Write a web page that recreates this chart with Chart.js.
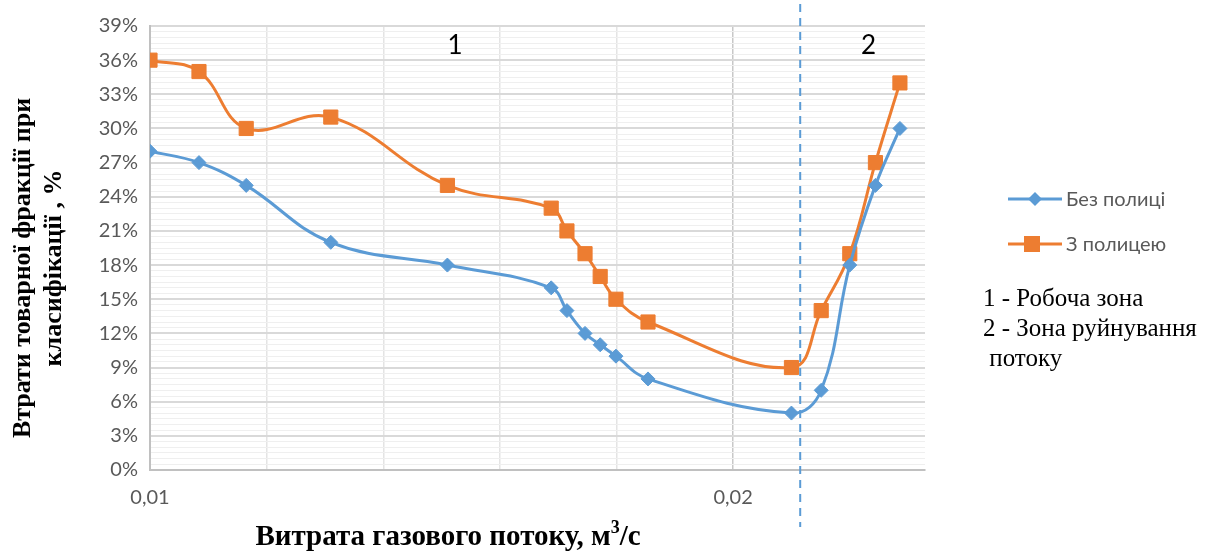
<!DOCTYPE html>
<html>
<head>
<meta charset="utf-8">
<script src="https://cdn.jsdelivr.net/npm/chart.js@4/dist/chart.umd.min.js"></script>
<style>
  html, body { margin: 0; padding: 0; background: #fff; }
  #wrap { width: 1218px; height: 557px; position: relative; }
</style>
</head>
<body>
<div id="wrap"><canvas id="chart"></canvas></div>
<script>
// Витрата газового потоку, м3/с
const flow = [0.01, 0.01084, 0.01165, 0.0131, 0.0151, 0.01688, 0.01715, 0.01746, 0.01772, 0.01799, 0.01854, 0.0210, 0.02151, 0.0220, 0.02244, 0.02286];
// Втрати товарної фракції, %
const lossNoShelf = [28, 27, 25, 20, 18, 16, 14, 12, 11, 10, 8, 5, 7, 18, 25, 30];
const lossShelf = [36, 35, 30, 31, 25, 23, 21, 19, 17, 15, 13, 9, 14, 19, 27, 34];
const seriesNames = ['Без полиці', 'З полицею'];
const xLabeled = [0.01, 0.02];
const xTickText = ['0,01', '0,02'];
const zoneBorder = 0.02115;
const zoneNames = ['1', '2'];
const zoneX = [0.01523, 0.02232];
const notes = ['1 - Робоча зона', '2 - Зона руйнування', ' потоку'];

const blue = '#5B9BD5';
const orange = '#ED7D31';

function isMajorY(v) {
  return Math.abs(v / 3 - Math.round(v / 3)) < 1e-6;
}

// подписи, легенда, пунктир
const extras = {
  id: 'extras',
  afterDraw(chart) {
    const ctx = chart.ctx;
    const xs = chart.scales.x;
    const ys = chart.scales.y;
    ctx.save();

    // граница зон
    const bx = xs.getPixelForValue(zoneBorder);
    ctx.strokeStyle = blue;
    ctx.lineWidth = 2;
    ctx.setLineDash([8, 6]);
    ctx.beginPath();
    ctx.moveTo(bx, 4);
    ctx.lineTo(bx, 527);
    ctx.stroke();
    ctx.setLineDash([]);

    // номера зон
    ctx.fillStyle = '#000';
    ctx.font = '26px Lato';
    ctx.textAlign = 'center';
    ctx.textBaseline = 'middle';
    zoneNames.forEach((t, i) => {
      ctx.fillText(t, xs.getPixelForValue(zoneX[i]), ys.getPixelForValue(37.3));
    });

    // легенда
    const colors = [blue, orange];
    const styles = ['diamond', 'square'];
    const legY = [199, 244];
    ctx.font = '20px Lato';
    ctx.textAlign = 'left';
    seriesNames.forEach((name, i) => {
      ctx.strokeStyle = colors[i];
      ctx.lineWidth = 3;
      ctx.beginPath();
      ctx.moveTo(1008, legY[i]);
      ctx.lineTo(1062, legY[i]);
      ctx.stroke();
      ctx.fillStyle = colors[i];
      ctx.beginPath();
      if (styles[i] == 'diamond') {
        ctx.moveTo(1035 - 7, legY[i]);
        ctx.lineTo(1035, legY[i] - 7);
        ctx.lineTo(1035 + 7, legY[i]);
        ctx.lineTo(1035, legY[i] + 7);
        ctx.closePath();
        ctx.fill();
      } else {
        ctx.fillRect(1032 - 8, legY[i] - 8, 16, 16);
      }
      ctx.fillStyle = '#595959';
      ctx.fillText(name, 1066, legY[i] + 1);
    });

    // пояснения к зонам
    ctx.fillStyle = '#000';
    ctx.font = '25px "Liberation Serif"';
    notes.forEach((t, i) => {
      ctx.fillText(t, 983, 299 + i * 30);
    });

    // подпись оси X
    const big = 'bold 29px "Liberation Serif"';
    const small = 'bold 18px "Liberation Serif"';
    ctx.font = big;
    const p1 = 'Витрата газового потоку, м';
    const p3 = '/с';
    const w1 = ctx.measureText(p1).width;
    const w3 = ctx.measureText(p3).width;
    ctx.font = small;
    const w2 = ctx.measureText('3').width;
    let sx = 448 - (w1 + w2 + w3) / 2;
    ctx.font = big;
    ctx.fillText(p1, sx, 538);
    ctx.font = small;
    ctx.fillText('3', sx + w1, 528);
    ctx.font = big;
    ctx.fillText(p3, sx + w1 + w2, 538);

    // подпись оси Y
    ctx.save();
    ctx.translate(23, 268);
    ctx.rotate(-Math.PI / 2);
    ctx.textAlign = 'center';
    ctx.font = 'bold 26px "Liberation Serif"';
    ctx.fillText('Втрати товарної фракції при', 0, 0);
    ctx.fillText('класифікації , %', 0, 31);
    ctx.restore();

    ctx.restore();
  }
};

const data = {
  datasets: [{
    label: seriesNames[0],
    data: flow.map((x, i) => ({ x: x, y: lossNoShelf[i] })),
    borderColor: blue,
    backgroundColor: blue,
    borderWidth: 3,
    pointStyle: 'rectRot',
    pointRadius: 7,
    pointBorderWidth: 1,
    tension: 0.4
  }, {
    label: seriesNames[1],
    data: flow.map((x, i) => ({ x: x, y: lossShelf[i] })),
    borderColor: orange,
    backgroundColor: orange,
    borderWidth: 3,
    pointStyle: 'rect',
    pointRadius: 10,
    pointBorderWidth: 1,
    tension: 0.4
  }]
};

const config = {
  type: 'line',
  data: data,
  options: {
    responsive: false,
    animation: false,
    layout: { padding: { top: 26, right: 293, left: 0, bottom: 0 } },
    plugins: {
      legend: { display: false },
      tooltip: { enabled: false }
    },
    scales: {
      x: {
        type: 'linear',
        min: 0.01,
        max: 0.02329,
        afterFit: s => { s.height = 87; },
        ticks: {
          stepSize: 0.002,
          autoSkip: false,
          maxRotation: 0,
          padding: 16,
          color: '#595959',
          font: { family: 'Lato', size: 20 },
          callback: v => {
            const i = xLabeled.findIndex(a => Math.abs(a - v) < 1e-7);
            return i >= 0 ? xTickText[i] : '';
          }
        },
        grid: {
          drawTicks: false,
          color: c => {
            const v = c.tick ? c.tick.value : 0;
            if (Math.abs(v - 0.02) < 1e-7) return '#c8c8c8';
            if (v > 0.0232) return 'rgba(0,0,0,0)';
            return '#e4e4e4';
          },
          lineWidth: 1.5
        },
        border: { color: '#c0c0c0', width: 2 }
      },
      y: {
        min: 0,
        max: 39,
        afterFit: s => { s.width = 150; },
        ticks: {
          stepSize: 0.5,
          autoSkip: false,
          padding: 12,
          color: '#595959',
          font: { family: 'Lato', size: 20 },
          callback: v => isMajorY(v) ? Math.round(v) + '%' : ''
        },
        grid: {
          drawTicks: false,
          color: c => isMajorY(c.tick ? c.tick.value : 0) ? '#d9d9d9' : '#efefef',
          lineWidth: c => isMajorY(c.tick ? c.tick.value : 0) ? 2 : 1
        },
        border: { color: '#c0c0c0', width: 2 }
      }
    }
  },
  plugins: [extras]
};

const canvas = document.getElementById('chart');
canvas.width = 1218;
canvas.height = 557;
const lossChart = new Chart(canvas, config);
</script>
</body>
</html>
